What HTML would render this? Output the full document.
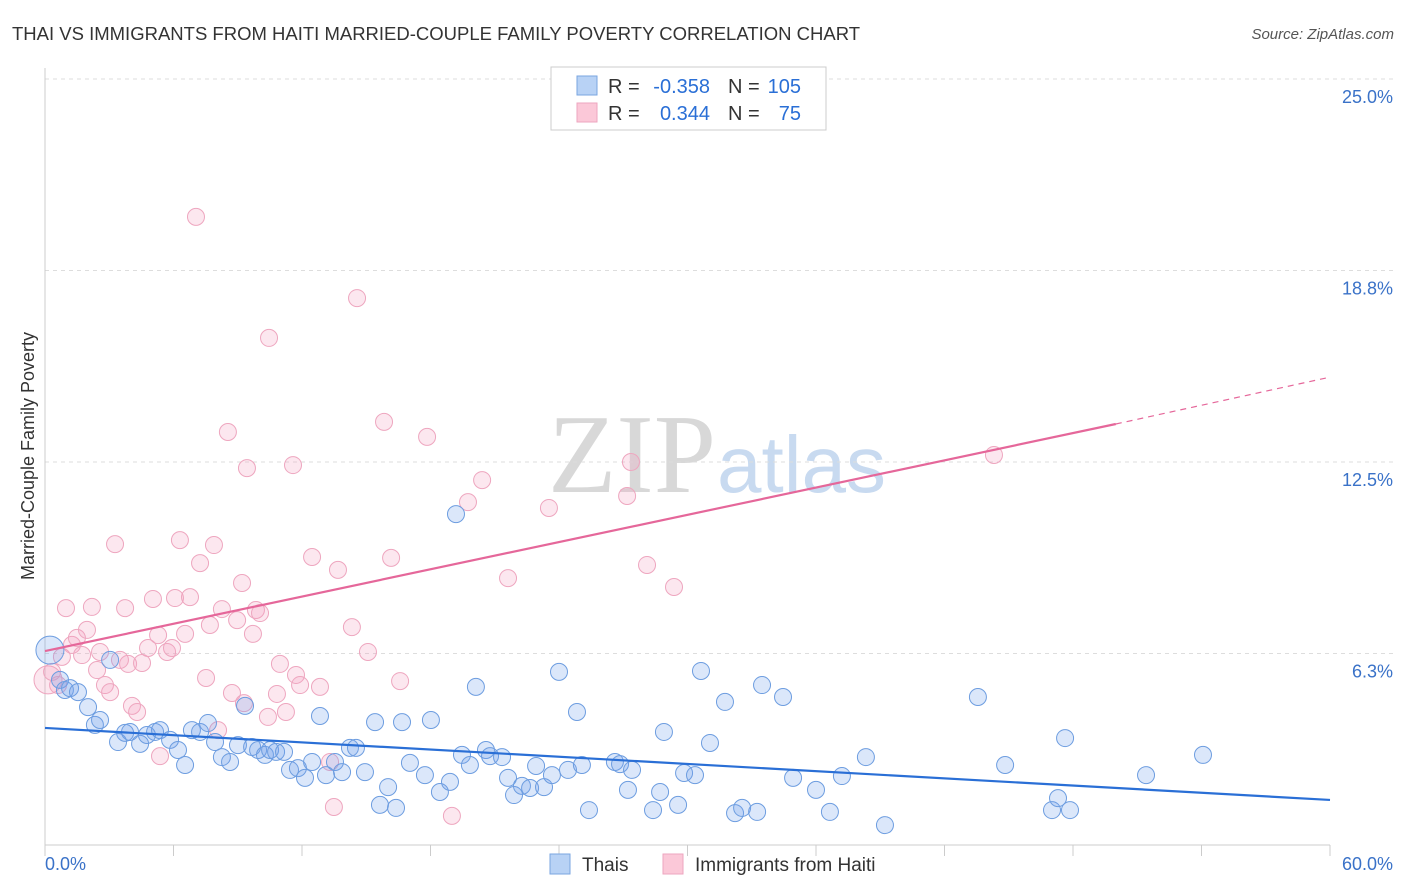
<!DOCTYPE html>
<html><head><meta charset="utf-8">
<style>
body{margin:0;background:#fff;font-family:"Liberation Sans",sans-serif;}
#wrap{position:relative;width:1406px;height:892px;overflow:hidden;}
</style></head>
<body>
<div id="wrap">
<svg id="chart" width="1406" height="892"></svg>
</div>
<script>
const thaiX=[0.23,0.70,0.93,1.17,1.54,2.01,2.33,2.57,3.04,3.41,3.74,3.97,4.44,4.76,5.14,5.37,5.84,6.21,6.54,6.86,7.24,7.61,7.94,8.26,8.64,9.01,9.34,9.67,9.95,10.27,10.51,10.79,11.16,11.44,11.81,12.14,12.47,12.84,13.12,13.54,13.87,14.24,14.52,14.94,15.41,15.64,16.02,16.39,16.67,17.04,17.74,18.02,18.44,18.91,19.19,19.47,19.84,20.12,20.59,20.78,21.34,21.62,21.90,22.27,22.65,22.93,23.30,23.67,24.00,24.42,24.84,25.07,25.40,26.61,26.85,27.22,27.41,28.39,28.72,28.90,29.56,29.84,30.35,30.63,31.05,31.75,32.22,32.55,33.25,33.48,34.46,34.93,36.00,36.65,37.21,38.33,39.22,43.56,44.83,47.02,47.30,47.63,47.86,51.41,54.07];
const thaiY=[6.36,5.39,5.06,5.12,4.99,4.50,3.92,4.08,6.04,3.36,3.66,3.69,3.30,3.59,3.69,3.75,3.43,3.10,2.61,3.75,3.69,3.98,3.36,2.87,2.71,3.26,4.54,3.20,3.10,2.94,3.10,3.04,3.04,2.45,2.51,2.19,2.71,4.21,2.28,2.71,2.38,3.17,3.17,2.38,4.01,1.31,1.89,1.21,4.01,2.68,2.28,4.08,1.73,2.06,10.80,2.94,2.61,5.16,3.10,2.90,2.87,2.19,1.63,1.93,1.86,2.58,1.89,2.28,5.65,2.45,4.34,2.61,1.14,2.71,2.64,1.80,2.45,1.14,1.73,3.69,1.31,2.35,2.28,5.68,3.33,4.67,1.04,1.21,1.08,5.22,4.83,2.19,1.80,1.08,2.25,2.87,0.65,4.83,2.61,1.14,1.53,3.49,1.14,2.28,2.94];
const haitiX=[0.14,0.33,0.61,0.79,0.98,1.26,1.49,1.73,1.96,2.19,2.43,2.57,2.80,3.04,3.27,3.50,3.74,3.88,4.06,4.30,4.53,4.81,5.04,5.28,5.37,5.70,5.93,6.07,6.30,6.54,6.77,7.05,7.24,7.52,7.70,7.89,8.08,8.26,8.54,8.73,8.97,9.20,9.29,9.43,9.71,9.85,10.04,10.46,10.41,10.83,10.97,11.25,11.58,11.72,11.91,12.47,12.84,13.31,13.49,13.68,14.33,14.57,15.08,15.83,16.16,16.58,17.84,19.00,19.75,20.41,21.62,23.53,27.18,27.36,28.11,29.37,44.31];
const haitiY=[5.39,5.65,5.22,6.14,7.73,6.53,6.76,6.20,7.02,7.77,5.71,6.30,5.22,4.99,9.82,6.04,7.73,5.91,4.54,4.34,5.94,6.43,8.03,6.85,2.90,6.30,6.43,8.06,9.95,6.89,8.09,20.50,9.20,5.45,7.18,9.79,3.75,7.70,13.48,4.96,7.34,8.55,4.63,12.30,6.89,7.67,7.57,16.55,4.18,4.93,5.91,4.34,12.40,5.55,5.22,9.40,5.16,2.71,1.24,8.98,7.11,17.85,6.30,13.81,9.37,5.35,13.32,0.95,11.19,11.91,8.71,11.00,11.39,12.50,9.14,8.42,12.73];
const thaiTrend=[[0,3.82],[60,1.47]];
const haitiTrend=[[0,6.33],[50,13.74],[60,15.27]];
const yTicks=[6.25,12.5,18.75,25];
const yTickLabels=["6.3%","12.5%","18.8%","25.0%"];

const NS="http://www.w3.org/2000/svg";
const svg=document.getElementById('chart');
const X0=45,X1=1330,Y0=845,Y1=79;
const sx=v=>X0+(v/60)*(X1-X0);
const sy=v=>Y0-(v/25)*(Y0-Y1);
function mk(t,a,p){const e=document.createElementNS(NS,t);for(const k in a)e.setAttribute(k,a[k]);(p||svg).appendChild(e);return e;}

let t=mk('text',{x:12,y:40,'font-size':18.5,fill:'#333'});t.textContent='THAI VS IMMIGRANTS FROM HAITI MARRIED-COUPLE FAMILY POVERTY CORRELATION CHART';

t=mk('text',{x:1394,y:39,'font-size':15,fill:'#555','font-style':'italic','text-anchor':'end'});t.textContent='Source: ZipAtlas.com';


t=mk('text',{x:716,y:492,'font-size':112,'text-anchor':'end',fill:'#d8d8d8','font-family':'Liberation Serif,serif'});t.textContent='ZIP';

t=mk('text',{x:717,y:492,'font-size':80,fill:'#c8daf0'});t.textContent='atlas';


yTicks.forEach((v,i)=>{
  const g=mk('line',{x1:X0,x2:1393,y1:sy(v),y2:sy(v),stroke:'#ddd','stroke-dasharray':'4,4'});
  
  const l=mk('text',{x:1393,y:sy(v)+24,'font-size':18,fill:'#3a72c8','text-anchor':'end'});l.textContent=yTickLabels[i];
  
});
let a=mk('line',{x1:X0,x2:X0,y1:68,y2:Y0,stroke:'#ccc'});
a=mk('line',{x1:X0,x2:X1,y1:Y0,y2:Y0,stroke:'#ccc'});
for(let i=0;i<=10;i++){const tk=mk('line',{x1:sx(i*6),x2:sx(i*6),y1:Y0,y2:Y0+11,stroke:'#ccc'});}
t=mk('text',{x:45,y:870,'font-size':18,fill:'#3a72c8'});t.textContent='0.0%';
t=mk('text',{x:1393,y:870,'font-size':18,fill:'#3a72c8','text-anchor':'end'});t.textContent='60.0%';
t=mk('text',{x:0,y:0,'font-size':18,fill:'#333','text-anchor':'middle',transform:'translate(34,456) rotate(-90)'});t.textContent='Married-Couple Family Poverty';


haitiX.forEach((x,i)=>{const c=mk('circle',{cx:sx(x),cy:sy(haitiY[i]),r:i===0?14:8.5,fill:'rgba(245,160,190,0.25)',stroke:'#eea6bf','stroke-width':1});
  });
thaiX.forEach((x,i)=>{const c=mk('circle',{cx:sx(x),cy:sy(thaiY[i]),r:i===0?14:8.5,fill:'rgba(110,160,235,0.25)',stroke:'#6d9de0','stroke-width':1});
  });

let ln=mk('line',{x1:sx(thaiTrend[0][0]),y1:sy(thaiTrend[0][1]),x2:sx(thaiTrend[1][0]),y2:sy(thaiTrend[1][1]),stroke:'#2a6fd6','stroke-width':2.2});

ln=mk('line',{x1:sx(haitiTrend[0][0]),y1:sy(haitiTrend[0][1]),x2:sx(haitiTrend[1][0]),y2:sy(haitiTrend[1][1]),stroke:'#e5679a','stroke-width':2.2});

ln=mk('line',{x1:sx(haitiTrend[1][0]),y1:sy(haitiTrend[1][1]),x2:sx(haitiTrend[2][0]),y2:sy(haitiTrend[2][1]),stroke:'#e5679a','stroke-width':1.2,'stroke-dasharray':'6,5'});


const lg=mk('g',{});
mk('rect',{x:551,y:67,width:275,height:63,fill:'#fff',stroke:'#ccc'},lg);
mk('rect',{x:577,y:76,width:20,height:19,fill:'#b8d2f5',stroke:'#7aa6e0'},lg);
mk('rect',{x:577,y:103,width:20,height:19,fill:'#fbc8d8',stroke:'#eea6bf'},lg);
function tx(x,y,s,c,anchor){const e=mk('text',{x:x,y:y,'font-size':20,fill:c,'text-anchor':anchor||'start'},lg);e.textContent=s;return e;}
tx(608,93,'R =','#333');tx(710,93,'-0.358','#2a6fd6','end');tx(728,93,'N =','#333');tx(801,93,'105','#2a6fd6','end');
tx(608,120,'R =','#333');tx(710,120,'0.344','#2a6fd6','end');tx(728,120,'N =','#333');tx(801,120,'75','#2a6fd6','end');

const bl=mk('g',{});
mk('rect',{x:550,y:854,width:20,height:20,fill:'#b8d2f5',stroke:'#7aa6e0'},bl);
let e=mk('text',{x:582,y:871,'font-size':19,fill:'#333'},bl);e.textContent='Thais';
mk('rect',{x:663,y:854,width:20,height:20,fill:'#fbc8d8',stroke:'#eea6bf'},bl);
e=mk('text',{x:695,y:871,'font-size':19,fill:'#333'},bl);e.textContent='Immigrants from Haiti';
</script>
</body></html>
